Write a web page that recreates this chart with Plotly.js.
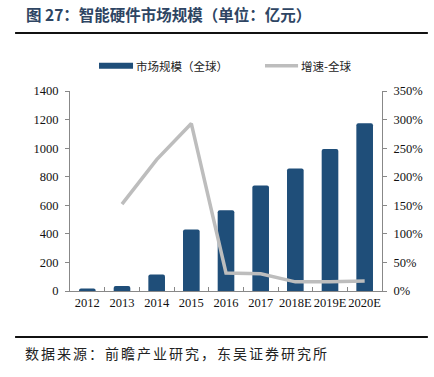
<!DOCTYPE html>
<html><head><meta charset="utf-8">
<script src="https://cdn.plot.ly/plotly-3.0.1.min.js"></script>
<style>html,body{margin:0;padding:0;background:#fff}#c{width:434px;height:377px}</style>
</head><body><div id="c"></div>
<script>
const years = ['2012','2013','2014','2015','2016','2017','2018E','2019E','2020E'];
const marketSize = [18, 35, 115, 430, 565, 738, 857, 994, 1174];
const growth = [null, 1.52, 2.30, 2.93, 0.315, 0.30, 0.16, 0.16, 0.175];
const barName = '市场规模（全球）';
const lineName = '增速-全球';
const leftTicks = [0,200,400,600,800,1000,1200,1400];
const rightTicks = [0,0.5,1,1.5,2,2.5,3,3.5];

const barColor = '#1F4E79', lineColor = '#BDBDBD';
const serif = 'Liberation Serif, Noto Sans CJK SC, serif';
const cjk = 'Noto Sans CJK SC, sans-serif';
const traces = [
  {type:'bar', x:years, y:marketSize, name:barName, marker:{color:barColor, cornerradius:2}, width:0.48, yaxis:'y', showlegend:false},
  {type:'scatter', mode:'lines', x:years, y:growth, name:lineName, yaxis:'y2',
   line:{color:lineColor, width:3.5}, connectgaps:false, showlegend:false}
];
const layout = {
  width:434, height:377,
  margin:{l:70, r:52, t:91, b:86},
  paper_bgcolor:'#fff', plot_bgcolor:'#fff',
  showlegend:false,
  font:{family:serif, size:12.5, color:'#111'},
  title:{text:'<b>图 27：智能硬件市场规模（单位：亿元）</b>', x:0.06, xanchor:'left', xref:'container',
         y:0.958, yanchor:'middle', yref:'container',
         font:{family:cjk, size:15.5, color:'#2E4563'}},
  xaxis:{type:'category', showline:true, linecolor:'#888', linewidth:1, ticks:'inside', tickson:'boundaries', tickangle:0,
         ticklen:4, tickcolor:'#888', tickfont:{family:serif, size:12.5, color:'#111'}, showgrid:false, zeroline:false},
  yaxis:{range:[0,1400], tickvals:leftTicks, ticktext:leftTicks.map(String), showline:true, linecolor:'#888', ticks:'outside',
         ticklen:4, tickcolor:'#888', showgrid:false, zeroline:false, ticklabelstandoff:4,
         tickfont:{family:serif, size:12.5, color:'#111'}},
  yaxis2:{range:[0,3.5], overlaying:'y', side:'right', tickvals:rightTicks, ticktext:rightTicks.map(v=>Math.round(v*100)+'%'),
          showline:true, linecolor:'#888', ticks:'outside', ticklen:4, tickcolor:'#888', showgrid:false, zeroline:false,
          ticklabelstandoff:4, tickfont:{family:serif, size:12.5, color:'#111'}},
  shapes:[
    {type:'line', xref:'paper', yref:'paper', x0:-0.176, x1:1.147, y0:1.29, y1:1.29, line:{color:'#111', width:2}},
    {type:'line', xref:'paper', yref:'paper', x0:-0.176, x1:1.147, y0:-0.23, y1:-0.23, line:{color:'#111', width:2}},
    // legend swatches
    {type:'rect', xref:'paper', yref:'paper', x0:0.093, x1:0.202, y0:1.1115, y1:1.1415, fillcolor:barColor, line:{width:0}},
    {type:'line', xref:'paper', yref:'paper', x0:0.625, x1:0.731, y0:1.1265, y1:1.1265, line:{color:lineColor, width:3.5}}
  ],
  annotations:[
    {text:barName, xref:'paper', yref:'paper', x:0.206, xanchor:'left', y:1.1265, yanchor:'middle',
     showarrow:false, font:{family:cjk, size:11.5, color:'#222'}},
    {text:lineName, xref:'paper', yref:'paper', x:0.735, xanchor:'left', y:1.1265, yanchor:'middle',
     showarrow:false, font:{family:cjk, size:11.5, color:'#222'}},
    {text:'数据来源：前瞻产业研究，东吴证券研究所', xref:'paper', yref:'paper', x:-0.09, xanchor:'left', y:-0.31, yanchor:'middle',
     showarrow:false, font:{family:cjk, size:14, color:'#222'}}
  ]
};
Plotly.newPlot('c', traces, layout, {displayModeBar:false, staticPlot:true}).then(()=>{
  const anns = document.querySelectorAll('.annotation-text');
  anns.forEach(t=>{ if (t.textContent.startsWith('数据来源')) t.style.letterSpacing='2px'; });
});
</script></body></html>
